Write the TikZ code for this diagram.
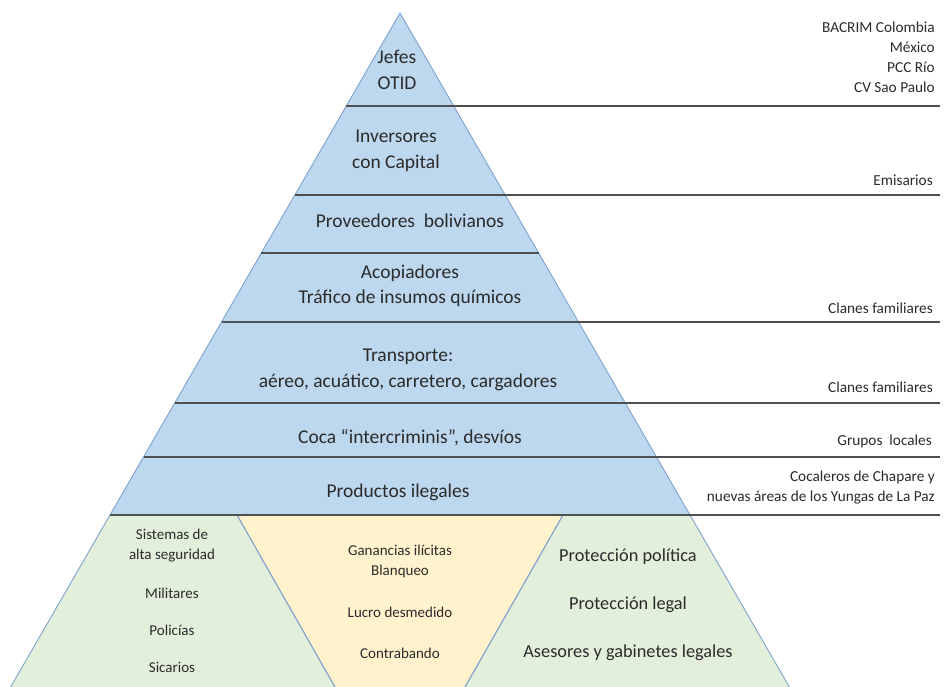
\documentclass[tikz,border=0pt]{standalone}
\usepackage{fontspec}
\setmainfont{Carlito}
\definecolor{pblue}{HTML}{BDD7EE}
\definecolor{pedge}{HTML}{7FA3CC}
\definecolor{pgreen}{HTML}{E2EFDA}
\definecolor{pyellow}{HTML}{FFF2CC}
\definecolor{sepc}{HTML}{505050}
\definecolor{txt}{HTML}{2B2B2B}
\tikzset{
  sepline/.style={draw=sepc, line width=1.6pt},
  lvl/.style={text=txt, font=\fontsize{19.5}{25.5}\selectfont, align=center, inner sep=0pt},
  side/.style={text=txt, font=\fontsize{15.3}{20}\selectfont, align=right, anchor=east, inner sep=0pt},
  small/.style={text=txt, font=\fontsize{15}{20}\selectfont, align=center, inner sep=0pt},
  mid/.style={text=txt, font=\fontsize{18.3}{22}\selectfont, align=center, inner sep=0pt},
}
\begin{document}
\begin{tikzpicture}[x=1pt,y=-1pt]
\useasboundingbox[fill=white] (0,0) rectangle (946,687);
% bottom sections
\fill[pgreen] (110,515) -- (237,515) -- (335,687) -- (10.6,687) -- cycle;
\fill[pyellow] (237,515) -- (563,515) -- (465,687) -- (335,687) -- cycle;
\fill[pgreen] (563,515) -- (690,515) -- (789.4,687) -- (465,687) -- cycle;
\draw[pedge, line width=0.9pt] (110,515) -- (10.6,687);
\draw[pedge, line width=0.9pt] (690,515) -- (789.4,687);
\draw[pedge, line width=1.2pt] (237,515) -- (335,687);
\draw[pedge, line width=1.2pt] (563,515) -- (465,687);
% pyramid
\fill[pblue] (400,13) -- (690,515) -- (110,515) -- cycle;
\draw[pedge, line width=0.9pt] (110,515) -- (400,13) -- (690,515);
% separators
\coordinate (s1) at (346.3,106);
\coordinate (s2) at (294.9,195);
\coordinate (s3) at (261.4,253);
\coordinate (s4) at (221.5,322);
\coordinate (s5) at (174.7,403);
\coordinate (s6) at (143.5,457);
\coordinate (s7) at (110,515);
\coordinate (e1) at (940,106);
\coordinate (e2) at (940,195);
\coordinate (e3) at (538.6,253);
\coordinate (e4) at (940,322);
\coordinate (e5) at (940,403);
\coordinate (e6) at (940,457);
\coordinate (e7) at (940,515);
\draw[sepline] (s1) -- (e1);
\draw[sepline] (s2) -- (e2);
\draw[sepline] (s3) -- (e3);
\draw[sepline] (s4) -- (e4);
\draw[sepline] (s5) -- (e5);
\draw[sepline] (s6) -- (e6);
\draw[sepline] (s7) -- (e7);
% level labels
\node[lvl] (l1) at (397,70) {Jefes\\OTID};
\node[lvl] (l2) at (396,151) {Inversores\\con Capital};
\node[lvl] (l3) at (410,221) {Proveedores\ \ bolivianos};
\node[lvl] (l4) at (410,286) {Acopiadores\\Tráfico de insumos químicos};
\node[lvl] (l5) at (408,370) {Transporte:\\aéreo,\ acuático,\ carretero,\ cargadores};
\node[lvl] (l6) at (410,438) {Coca “intercriminis”, desvíos};
\node[lvl] (l7) at (398,492) {Productos ilegales};
% side labels
\node[side] (r1) at (935,57) {BACRIM Colombia\\México\\PCC Río\\CV Sao Paulo};
\node[side] (r2) at (933,180) {Emisarios};
\node[side] (r3) at (933,308) {Clanes familiares};
\node[side] (r4) at (933,387) {Clanes familiares};
\node[side] (r5) at (932,441) {Grupos\ \ locales};
\node[side] (r6) at (935,488) {Cocaleros de Chapare y\\nuevas áreas de los Yungas de La Paz};
% bottom labels
\node[small] (b1) at (172,546) {Sistemas de\\alta seguridad};
\node[small] (b2) at (172,593) {Militares};
\node[small] (b3) at (172,630) {Policías};
\node[small] (b4) at (172,667) {Sicarios};
\node[small] (y1) at (400,561) {Ganancias ilícitas\\Blanqueo};
\node[small] (y2) at (400,612) {Lucro desmedido};
\node[small] (y3) at (400,653) {Contrabando};
\node[mid] (g1) at (628,557) {Protección política};
\node[mid] (g2) at (628,605) {Protección legal};
\node[mid] (g3) at (628,653) {Asesores y gabinetes legales};
\end{tikzpicture}
\end{document}
